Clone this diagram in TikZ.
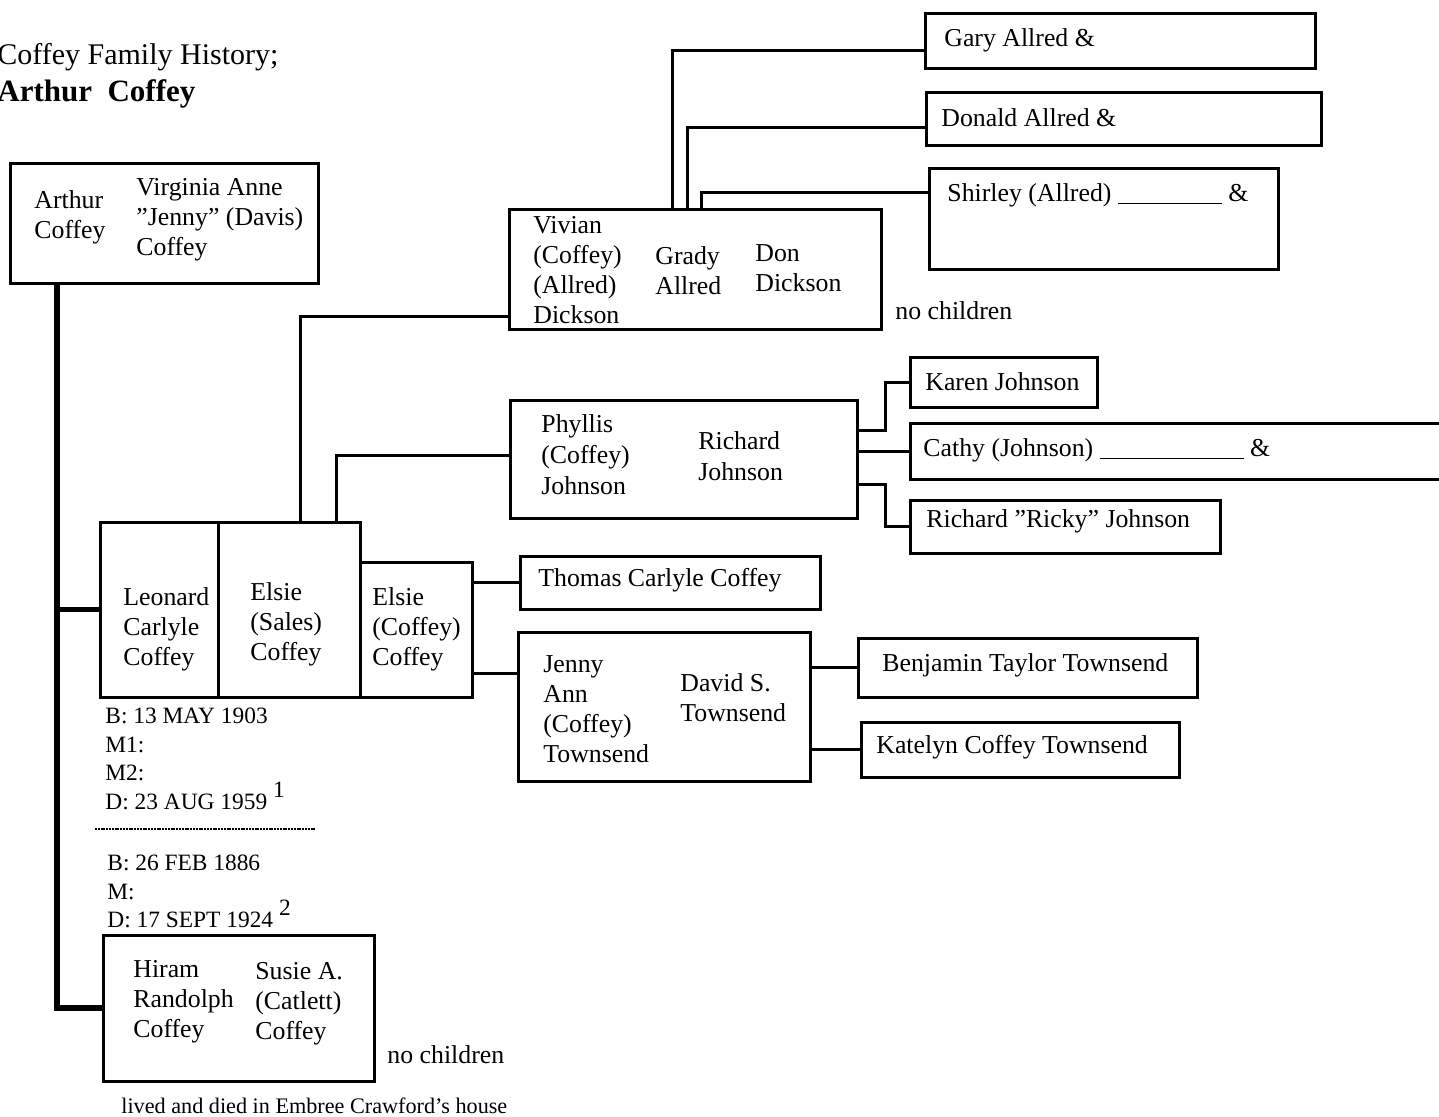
\documentclass[tikz,border=0pt]{standalone}
\usepackage{fontspec}
\setmainfont{Liberation Serif}
\begin{document}
\begin{tikzpicture}[x=0.5pt,y=-0.5pt,
  box/.style={draw, line width=1.5pt, inner sep=0pt, outer sep=0pt},
  conn/.style={line width=1.5pt},
  trunk/.style={line width=2.6pt},
  txt/.style={inner sep=0pt, align=left, font=\fontsize{12.9}{15}\selectfont},
  datetxt/.style={inner sep=0pt, align=left, font=\fontsize{11.7}{14.2}\selectfont}]
\useasboundingbox (0,0) rectangle (1439,1116);

% title
\node[inner sep=0pt, anchor=west, font=\fontsize{15}{18}\selectfont] (title1) at (-3,57) {Coffey Family History;};
\node[inner sep=0pt, anchor=west, font=\fontsize{15.5}{18}\selectfont\bfseries] (title2) at (-3,94) {Arthur\ \ Coffey};

% boxes
\node[box, minimum width=154pt, minimum height=60pt] (arthur) at (164,223) {};
\node[box, minimum width=59pt, minimum height=87.5pt] (leonard) at (159,609.5) {};
\node[box, minimum width=71pt, minimum height=87.5pt] (elsieS) at (289,609.5) {};
\node[box, minimum width=56pt, minimum height=67.5pt] (elsieC) at (416,629.5) {};
\node[box, minimum width=135.5pt, minimum height=73pt] (hiram) at (238.5,1008) {};
\node[box, minimum width=186pt, minimum height=60pt] (vivian) at (695,269) {};
\node[box, minimum width=173.5pt, minimum height=59pt] (phyllis) at (683.5,459) {};
\node[box, minimum width=93.5pt, minimum height=25pt] (karen) at (1003.5,382) {};
\node[box, minimum width=275pt, minimum height=28pt] (cathy) at (1185,451) {};
\node[box, minimum width=155pt, minimum height=26.5pt] (ricky) at (1065,526.5) {};
\node[box, minimum width=150pt, minimum height=26.5pt] (thomas) at (670,582.5) {};
\node[box, minimum width=146pt, minimum height=74.5pt] (jenny) at (664,706.5) {};
\node[box, minimum width=169.5pt, minimum height=29.5pt] (benjamin) at (1027.5,667.5) {};
\node[box, minimum width=159pt, minimum height=27.5pt] (katelyn) at (1020,749.5) {};
\node[box, minimum width=195pt, minimum height=27.5pt] (gary) at (1120,40.5) {};
\node[box, minimum width=197.5pt, minimum height=26.5pt] (donald) at (1123.5,118.5) {};
\node[box, minimum width=174.5pt, minimum height=50.5pt] (shirley) at (1103.5,218.5) {};

% texts in boxes
\node[txt, anchor=north west] (tArthur) at (34,190) {Arthur\\Coffey};
\node[txt, anchor=north west] (tVirginia) at (136,178) {Virginia Anne\\\char34Jenny\char34{} (Davis)\\Coffey};
\node[txt, anchor=north west] (tLeonard) at (123,587) {Leonard\\Carlyle\\Coffey};
\node[txt, anchor=north west] (tElsieS) at (250,582) {Elsie\\(Sales)\\Coffey};
\node[txt, anchor=north west] (tElsieC) at (372,587) {Elsie\\(Coffey)\\Coffey};
\node[txt, anchor=north west] (tHiram) at (133,960) {Hiram\\Randolph\\Coffey};
\node[txt, anchor=north west] (tSusie) at (255,962) {Susie A.\\(Catlett)\\Coffey};
\node[txt, anchor=north west] (tVivian) at (533,216) {Vivian\\(Coffey)\\(Allred)\\Dickson};
\node[txt, anchor=north west] (tGrady) at (655,246) {Grady\\Allred};
\node[txt, anchor=north west] (tDon) at (755,244) {Don\\Dickson};
\node[txt, anchor=north west, font=\fontsize{12.9}{15.5}\selectfont] (tPhyllis) at (541,414) {Phyllis\\(Coffey)\\Johnson};
\node[txt, anchor=north west, font=\fontsize{12.9}{15.5}\selectfont] (tRichard) at (698,431) {Richard\\Johnson};
\node[txt, anchor=north west] (tJenny) at (543,655) {Jenny\\Ann\\(Coffey)\\Townsend};
\node[txt, anchor=north west] (tDavid) at (680,673) {David S.\\Townsend};
\node[txt, anchor=west] (tKaren) at (925,382) {Karen Johnson};
\node[txt, anchor=west] (tCathy) at (923,450) {Cathy (Johnson) \rule[-1.5pt]{72pt}{0.6pt} \&};
\node[txt, anchor=west] (tRicky) at (926,521) {Richard \char34Ricky\char34{} Johnson};
\node[txt, anchor=west] (tThomas) at (538,580) {Thomas Carlyle Coffey};
\node[txt, anchor=west] (tBenjamin) at (882,665) {Benjamin Taylor Townsend};
\node[txt, anchor=west] (tKatelyn) at (876,747) {Katelyn Coffey Townsend};
\node[txt, anchor=west] (tGary) at (944,40) {Gary Allred \&};
\node[txt, anchor=west] (tDonald) at (941,118) {Donald Allred \&};
\node[txt, anchor=west] (tShirley) at (947,195) {Shirley (Allred) \rule[-1.5pt]{52pt}{0.6pt} \&};

% free texts
\node[txt, anchor=west] (nc1) at (895,311) {no children};
\node[txt, anchor=west] (nc2) at (387,1055) {no children};
\node[inner sep=0pt, anchor=west, font=\fontsize{11.1}{13}\selectfont] (lived) at (121,1106) {lived and died in Embree Crawford's house};
\node[datetxt, anchor=north west] (dates1) at (105,708) {B: 13 MAY 1903\\M1:\\M2:\\D: 23 AUG 1959 \raisebox{6pt}{1}};
\node[datetxt, anchor=north west] (dates2) at (107,855) {B: 26 FEB 1886\\M:\\D: 17 SEPT 1924 \raisebox{6pt}{2}};
\coordinate (dl1) at (95,829);
\coordinate (dl2) at (315,829);
\draw[line width=1pt, dash pattern=on 1pt off 0.4pt] (dl1) -- (dl2);

% helper coordinates
\coordinate (tx) at (57,0);
\coordinate (cv) at (300,316);
\coordinate (cp) at (336,455);
\coordinate (cj) at (472,673);
\coordinate (jk) at (885,430);
\coordinate (jr) at (885,484);
\coordinate (g1) at (672,50);
\coordinate (g2) at (687,127);
\coordinate (g3) at (701,192);

% connectors
\draw[trunk] (arthur.south -| tx) -- (hiram.west -| tx) -- (hiram.west);
\draw[trunk] (leonard.west -| tx) -- (leonard.west);
\draw[conn] (elsieS.north -| cv) |- (vivian.west |- cv);
\draw[conn] (elsieS.north -| cp) |- (phyllis.west |- cp);
\draw[conn] (phyllis.east |- jk) -| (karen.west -| jk) -- (karen.west);
\draw[conn] (phyllis.east |- cathy.west) -- (cathy.west);
\draw[conn] (phyllis.east |- jr) -| (ricky.west -| jr) -- (ricky.west);
\draw[conn] (elsieC.east |- thomas.west) -- (thomas.west);
\draw[conn] (elsieC.east |- cj) -- (jenny.west |- cj);
\draw[conn] (jenny.east |- benjamin.west) -- (benjamin.west);
\draw[conn] (jenny.east |- katelyn.west) -- (katelyn.west);
\draw[conn] (vivian.north -| g1) |- (gary.west |- g1);
\draw[conn] (vivian.north -| g2) |- (donald.west |- g2);
\draw[conn] (vivian.north -| g3) |- (shirley.west |- g3);
\end{tikzpicture}
\end{document}
